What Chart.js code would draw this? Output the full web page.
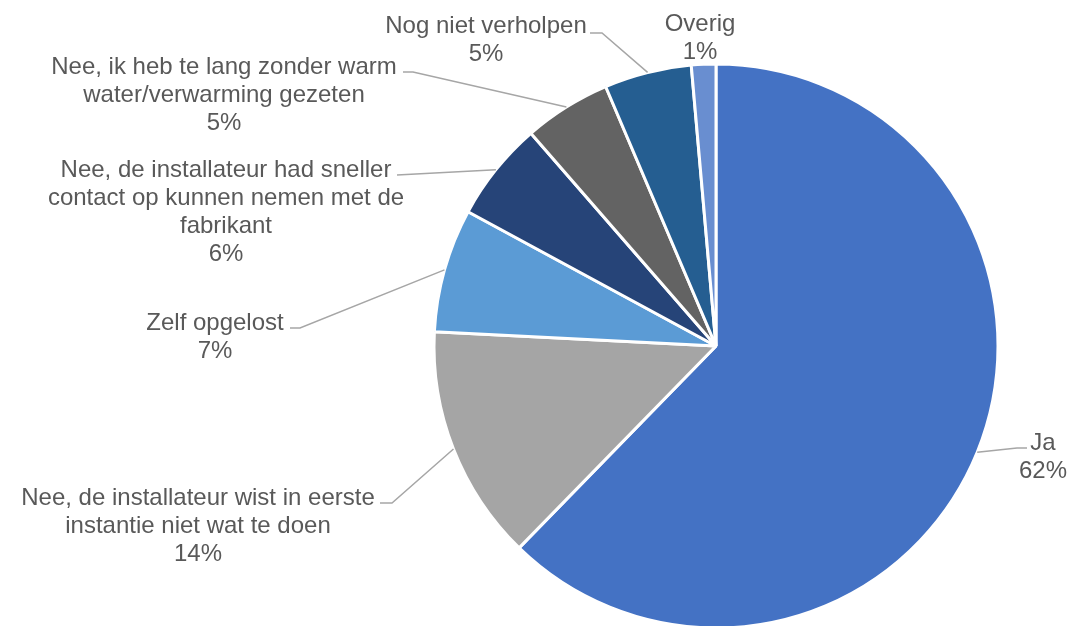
<!DOCTYPE html>
<html>
<head>
<meta charset="utf-8">
<script src="https://cdn.jsdelivr.net/npm/chart.js@4"></script>
<style>
html,body{margin:0;padding:0;background:#fff;overflow:hidden;}
#wrap{width:1069px;height:640px;}
</style>
</head>
<body>
<div id="wrap"><canvas id="c" width="1069" height="640"></canvas></div>
<script>
// Data
const categories = [
  "Ja",
  "Nee, de installateur wist in eerste\ninstantie niet wat te doen",
  "Zelf opgelost",
  "Nee, de installateur had sneller\ncontact op kunnen nemen met de\nfabrikant",
  "Nee, ik heb te lang zonder warm\nwater/verwarming gezeten",
  "Nog niet verholpen",
  "Overig"
];
// slice shares (labels show them rounded)
const values = [62.3, 13.5, 7.1, 5.7, 5.0, 5.0, 1.4];
const colors = ["#4472C4", "#A5A5A5", "#5B9BD5", "#264478", "#636363", "#255E91", "#698ED0"];

// Label placement (text centre x, first baseline y, leader start/elbow)
const labelLayout = [
  {x: 1043, y: 450, start: [1027, 448], elbow: [1017, 448]},
  {x: 198,  y: 505, start: [380, 503],  elbow: [392, 503]},
  {x: 215,  y: 330, start: [290, 328],  elbow: [300, 328]},
  {x: 226,  y: 177, start: [397, 175],  elbow: [397, 175]},
  {x: 224,  y: 74,  start: [403, 72],   elbow: [413, 72]},
  {x: 486,  y: 33,  start: [590, 33],   elbow: [602, 33]},
  {x: 700,  y: 31,  start: null,        elbow: null}
];

const LINE_H = 28;
const FONT = '24px "Liberation Sans", Arial, sans-serif';
const TEXT_COLOR = '#595959';

const labelPlugin = {
  id: 'pieLabels',
  afterDatasetsDraw(chart) {
    const ctx = chart.ctx;
    const meta = chart.getDatasetMeta(0);
    ctx.save();
    meta.data.forEach((arc, i) => {
      const L = labelLayout[i];
      const p = arc.getProps(['x', 'y', 'startAngle', 'endAngle', 'outerRadius'], true);
      const mid = (p.startAngle + p.endAngle) / 2;
      const ex = p.x + Math.cos(mid) * p.outerRadius;
      const ey = p.y + Math.sin(mid) * p.outerRadius;
      if (L.start) {
        ctx.strokeStyle = '#A6A6A6';
        ctx.lineWidth = 1.5;
        ctx.beginPath();
        ctx.moveTo(L.start[0], L.start[1]);
        ctx.lineTo(L.elbow[0], L.elbow[1]);
        ctx.lineTo(ex, ey);
        ctx.stroke();
      }
      const lines = categories[i].split('\n').concat([Math.round(values[i]) + '%']);
      ctx.fillStyle = TEXT_COLOR;
      ctx.font = FONT;
      ctx.textAlign = 'center';
      ctx.textBaseline = 'alphabetic';
      lines.forEach((t, k) => ctx.fillText(t, L.x, L.y + k * LINE_H));
    });
    ctx.restore();
  }
};

new Chart(document.getElementById('c'), {
  type: 'pie',
  data: {
    labels: categories,
    datasets: [{
      data: values,
      backgroundColor: colors,
      borderColor: '#FFFFFF',
      borderWidth: 3,
      hoverBorderWidth: 3,
      hoverOffset: 0
    }]
  },
  options: {
    responsive: false,
    devicePixelRatio: 1,
    animation: false,
    layout: {padding: {left: 432.5, right: 69.5, top: 62.5, bottom: 10.5}},
    plugins: {legend: {display: false}, tooltip: {enabled: false}}
  },
  plugins: [labelPlugin]
});
</script>
</body>
</html>
